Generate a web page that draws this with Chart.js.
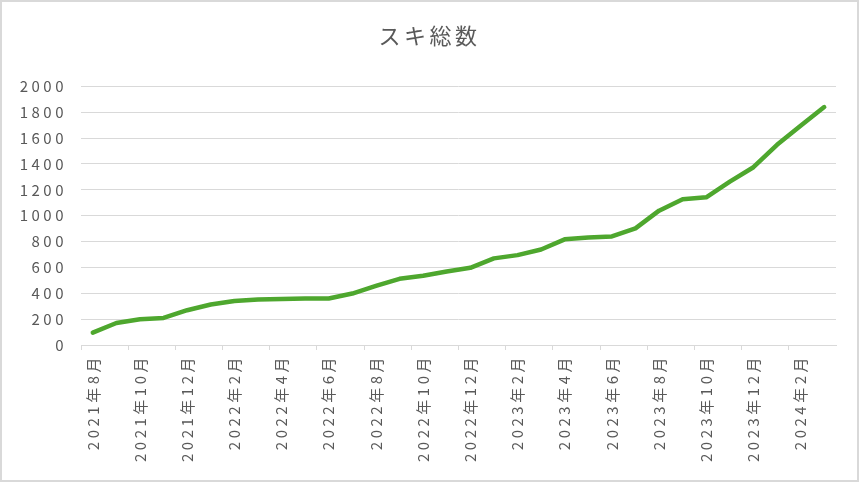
<!DOCTYPE html>
<html lang="ja">
<head>
    <meta charset="UTF-8">
    <title>スキ総数</title>
    <script src="https://cdn.jsdelivr.net/npm/chart.js@4.4.1/dist/chart.umd.min.js"></script>
    <style>
        body {
            margin: 0;
            padding: 0;
            background: #ffffff;
        }
        .chart-frame {
            position: absolute;
            left: 0;
            top: 0;
            width: 859px;
            height: 482px;
            box-sizing: border-box;
            border: 2px solid #d9d9d9;
            background: #ffffff;
        }
    </style>
</head>
<body>
    <div class="chart-frame">
        <canvas id="likesChart"></canvas>
    </div>

    <script>
        // months shown on the x axis (every other one gets a label)
        const months = [
            '2021年8月', '2021年9月', '2021年10月', '2021年11月', '2021年12月',
            '2022年1月', '2022年2月', '2022年3月', '2022年4月', '2022年5月', '2022年6月',
            '2022年7月', '2022年8月', '2022年9月', '2022年10月', '2022年11月', '2022年12月',
            '2023年1月', '2023年2月', '2023年3月', '2023年4月', '2023年5月', '2023年6月',
            '2023年7月', '2023年8月', '2023年9月', '2023年10月', '2023年11月', '2023年12月',
            '2024年1月', '2024年2月', '2024年3月'
        ];

        // cumulative likes
        const likeTotals = [
            96, 170, 199, 209, 269, 313, 341, 352, 355, 360, 360,
            398, 457, 512, 535, 569, 597, 670, 695, 739, 817, 832,
            840, 902, 1039, 1127, 1142, 1263, 1375, 1548, 1695, 1840
        ];

        const yTicks = [0, 200, 400, 600, 800, 1000, 1200, 1400, 1600, 1800, 2000];

        const textColor = '#595959';
        const gridColor = '#d9d9d9';
        const fontFamily = '"Noto Sans CJK JP", "Noto Sans", sans-serif';

        // Excel's Japanese fonts are spaced out, so widen the canvas text a bit
        const spacingPlugin = {
            id: 'letterSpacing',
            beforeUpdate(chart) { chart.ctx.letterSpacing = '3.5px'; },
            beforeDraw(chart) { chart.ctx.letterSpacing = '3.5px'; }
        };

        const ctx = document.getElementById('likesChart').getContext('2d');
        new Chart(ctx, {
            type: 'line',
            data: {
                labels: months,
                datasets: [{
                    label: 'スキ総数',
                    data: likeTotals,
                    borderColor: '#4EA72E',
                    backgroundColor: '#4EA72E',
                    borderWidth: 4.5,
                    pointRadius: 0,
                    pointHoverRadius: 0,
                    tension: 0,
                    borderJoinStyle: 'round',
                    borderCapStyle: 'round',
                    fill: false
                }]
            },
            options: {
                responsive: true,
                maintainAspectRatio: false,
                animation: false,
                layout: {
                    padding: 0
                },
                plugins: {
                    legend: { display: false },
                    tooltip: { enabled: false },
                    title: {
                        display: true,
                        text: 'スキ総数',
                        color: textColor,
                        font: { family: fontFamily, size: 22, weight: 'normal' },
                        padding: { top: 20, bottom: 38 }
                    }
                },
                scales: {
                    x: {
                        offset: true,
                        grid: {
                            offset: true,
                            drawOnChartArea: false,
                            drawTicks: true,
                            tickLength: 5,
                            color: c => (c.index % 2 === 0 ? gridColor : 'rgba(0,0,0,0)')
                        },
                        border: { display: true, color: gridColor, width: 1 },
                        ticks: {
                            autoSkip: false,
                            minRotation: 90,
                            maxRotation: 90,
                            padding: 4,
                            color: textColor,
                            font: { family: fontFamily, size: 15 },
                            callback: (v, i) => (i % 2 === 0 ? months[i] : '')
                        },
                        afterFit: scale => { scale.height = 135; }
                    },
                    y: {
                        min: 0,
                        max: 2000,
                        afterBuildTicks: scale => {
                            scale.ticks = yTicks.map(v => ({ value: v }));
                        },
                        grid: {
                            color: gridColor,
                            lineWidth: 1,
                            drawTicks: false
                        },
                        border: { display: false },
                        ticks: {
                            padding: 14,
                            color: textColor,
                            font: { family: fontFamily, size: 15 },
                            callback: v => String(v)
                        },
                        afterFit: scale => { scale.width = 79; }
                    },
                    // empty strip on the right so the plot ends where Excel's does
                    yRight: {
                        position: 'right',
                        display: true,
                        grid: { display: false },
                        border: { display: false },
                        ticks: { display: false },
                        afterFit: scale => { scale.width = 21; }
                    }
                }
            },
            plugins: [spacingPlugin]
        });
    </script>
</body>
</html>
